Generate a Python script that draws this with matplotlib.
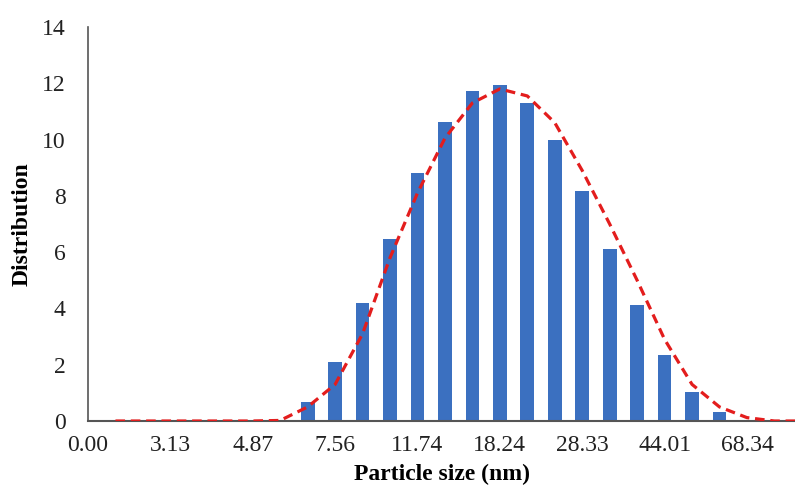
import numpy as np
import matplotlib.pyplot as plt

plt.rcParams['font.family'] = ['Liberation Serif', 'DejaVu Serif']

# category index of each bar (categories are log-spaced size bins)
bar_pos = [8, 9, 10, 11, 12, 13, 14, 15, 16, 17, 18, 19, 20, 21, 22, 23]
bar_vals = [0.67, 2.09, 4.18, 6.45, 8.8, 10.64, 11.71, 11.94, 11.3, 9.99,
            8.19, 6.1, 4.11, 2.33, 1.03, 0.33]

# fitted curve, read at each category
fit_pos = [1, 2, 3, 4, 5, 6, 7, 8, 9, 10, 11, 12, 13, 14, 15, 16, 17,
           18, 19, 20, 21, 22, 23, 24, 25, 26]
fit_vals = [0, 0, 0, 0, 0, 0, 0.02, 0.5, 1.3, 3.1, 5.8, 8.1, 10.05, 11.3,
            11.8, 11.55, 10.6, 8.9, 7.0, 5.0, 2.9, 1.3, 0.5, 0.12, 0.0, 0.0]

tick_pos = [0, 3, 6, 9, 12, 15, 18, 21, 24]
tick_labels = ['0.00', '3.13', '4.87', '7.56', '11.74', '18.24', '28.33',
               '44.01', '68.34']

fig = plt.figure(figsize=(7.95, 4.96), dpi=100)
ax = fig.add_axes([88 / 795, 75 / 496, 707 / 795, 394 / 496])

ax.bar(bar_pos, bar_vals, width=0.5, color='#3b70c0', zorder=2)
ax.plot(fit_pos, fit_vals, color='#e31d1d', lw=2.3,
        linestyle=(0, (3, 1.8)), zorder=3)

ax.set_xlim(0, 25.75)
ax.set_ylim(0, 14)
ax.set_yticks(range(0, 15, 2))
ax.set_xticks(tick_pos)
ax.set_xticklabels(tick_labels)
ax.tick_params(axis='both', length=0, labelsize=17, colors='#222222')
ax.tick_params(axis='x', pad=10)
ax.tick_params(axis='y', pad=16)

for side in ['top', 'right']:
    ax.spines[side].set_visible(False)
ax.spines['left'].set_color('#555555')
ax.spines['bottom'].set_color('#555555')
ax.spines['left'].set_linewidth(1.2)
ax.spines['bottom'].set_linewidth(1.5)

ax.set_xlabel('Particle size (nm)', fontsize=17, fontweight='bold', labelpad=6)
ax.set_ylabel('Distribution', fontsize=17, fontweight='bold')
ax.yaxis.set_label_coords(-0.078, 0.5)

fig.savefig('out.png', dpi=100)
